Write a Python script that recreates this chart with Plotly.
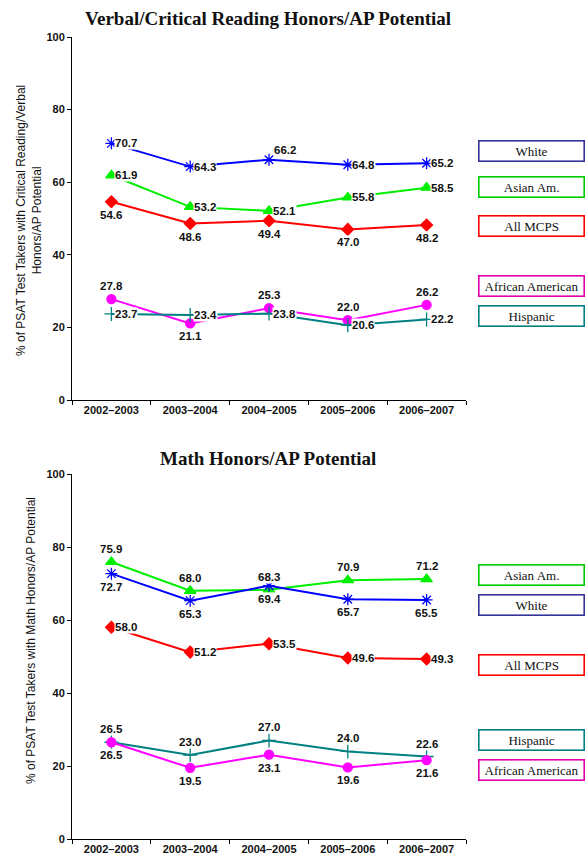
import plotly.graph_objects as go

years = ["2002–2003", "2003–2004", "2004–2005", "2005–2006", "2006–2007"]
y_ticks = [0, 20, 40, 60, 80, 100]

# Verbal / Critical Reading
v_white = [70.7, 64.3, 66.2, 64.8, 65.2]
v_asian = [61.9, 53.2, 52.1, 55.8, 58.5]
v_all = [54.6, 48.6, 49.4, 47.0, 48.2]
v_afam = [27.8, 21.1, 25.3, 22.0, 26.2]
v_hisp = [23.7, 23.4, 23.8, 20.6, 22.2]

# Math
m_asian = [75.9, 68.0, 68.3, 70.9, 71.2]
m_white = [72.7, 65.3, 69.4, 65.7, 65.5]
m_all = [58.0, 51.2, 53.5, 49.6, 49.3]
m_hisp = [26.5, 23.0, 27.0, 24.0, 22.6]
m_afam = [26.5, 19.5, 23.1, 19.6, 21.6]

series_names = ["White", "Asian Am.", "All MCPS", "African American", "Hispanic"]

line_col = {"White": "#0000ff", "Asian Am.": "#00ee00", "All MCPS": "#ff0000",
            "African American": "#ff00ff", "Hispanic": "#008080"}
box_col = {"White": "#333399", "Asian Am.": "#00cc00", "All MCPS": "#ff0000",
           "African American": "#dd00aa", "Hispanic": "#008080"}
sym = {"White": "asterisk-open", "Asian Am.": "triangle-up", "All MCPS": "diamond",
       "African American": "circle", "Hispanic": "cross-thin-open"}
msz = {"White": 10, "Asian Am.": 10, "All MCPS": 9, "African American": 9, "Hispanic": 10}

verbal = {"White": v_white, "Asian Am.": v_asian, "All MCPS": v_all,
          "African American": v_afam, "Hispanic": v_hisp}
math = {"Asian Am.": m_asian, "White": m_white, "All MCPS": m_all,
        "Hispanic": m_hisp, "African American": m_afam}

verbal_pos = {"White": ["r", "r", "tr", "r", "r"], "Asian Am.": ["r"] * 5,
              "All MCPS": ["b"] * 5, "African American": ["t", "b", "t", "t", "t"],
              "Hispanic": ["r"] * 5}
math_pos = {"Asian Am.": ["t", "t", "t", "t", "t"], "White": ["b"] * 5,
            "All MCPS": ["r"] * 5, "Hispanic": ["t"] * 5, "African American": ["b"] * 5}

verbal_legend_y = {"White": 151, "Asian Am.": 187.5, "All MCPS": 226,
                   "African American": 286, "Hispanic": 316}
math_legend_y = {"Asian Am.": 574.5, "White": 604.5, "All MCPS": 665,
                 "Hispanic": 740, "African American": 770}

W, H = 586, 864
SANS = "Liberation Sans"
fig = go.Figure()
annots = []

offsets = {"r": dict(xanchor="left", yanchor="middle", xshift=3, yshift=0),
           "tr": dict(xanchor="left", yanchor="bottom", xshift=4, yshift=3),
           "t": dict(xanchor="center", yanchor="bottom", xshift=0, yshift=6),
           "b": dict(xanchor="center", yanchor="top", xshift=0, yshift=-6)}

def add_panel(data, pos, xa, ya):
    for name, vals in data.items():
        fig.add_trace(go.Scatter(
            x=years, y=vals, mode="lines+markers", name=name, showlegend=False,
            xaxis=xa, yaxis=ya, hoverinfo="skip",
            line=dict(color=line_col[name], width=2),
            marker=dict(symbol=sym[name], size=msz[name], color=line_col[name],
                        line=dict(color=line_col[name], width=1.3)),
        ))
        for i, v in enumerate(vals):
            o = offsets[pos[name][i]]
            annots.append(dict(
                x=years[i], y=v, xref=xa, yref=ya, text=f"{v:.1f}", showarrow=False,
                font=dict(family=SANS, size=11.5, color="#111111", weight="bold"),
                bgcolor="white", borderpad=0, **o))

add_panel(verbal, verbal_pos, "x", "y")
add_panel(math, math_pos, "x2", "y2")

def legend_boxes(ypos):
    for name, yc in ypos.items():
        annots.append(dict(
            x=531.5 / W, y=1 - yc / H, xref="paper", yref="paper", text=name,
            showarrow=False, xanchor="center", yanchor="middle",
            width=102, height=17, borderpad=1, borderwidth=1.6,
            bordercolor=box_col[name], bgcolor="white",
            font=dict(family="Liberation Serif", size=13, color="#111111")))

legend_boxes(verbal_legend_y)
legend_boxes(math_legend_y)

annots.append(dict(x=268 / W, y=1 - 18 / H, xref="paper", yref="paper",
                   text="<b>Verbal/Critical Reading Honors/AP Potential</b>", showarrow=False,
                   xanchor="center", yanchor="middle",
                   font=dict(family="Liberation Serif", size=19, color="#111111")))
annots.append(dict(x=268 / W, y=1 - 458 / H, xref="paper", yref="paper",
                   text="<b>Math Honors/AP Potential</b>", showarrow=False,
                   xanchor="center", yanchor="middle",
                   font=dict(family="Liberation Serif", size=19, color="#111111")))

# y-axis titles
annots.append(dict(x=29 / W, y=1 - 221 / H, xref="paper", yref="paper", textangle=-90,
                   text="% of PSAT Test Takers with Critical Reading/Verbal<br>Honors/AP Potential",
                   showarrow=False, xanchor="center", yanchor="middle",
                   font=dict(family=SANS, size=12, color="#111111")))
annots.append(dict(x=31 / W, y=1 - 641 / H, xref="paper", yref="paper", textangle=-90,
                   text="% of PSAT Test Takers with Math Honors/AP Potential",
                   showarrow=False, xanchor="center", yanchor="middle",
                   font=dict(family=SANS, size=12, color="#111111")))

xdom = [72 / W, 466 / W]
axis_common = dict(showline=True, linecolor="black", linewidth=1, ticks="outside",
                   ticklen=4, tickcolor="black", showgrid=False, zeroline=False,
                   automargin=False, fixedrange=True,
                   tickfont=dict(family=SANS, size=11, color="#111111", weight="bold"))

xa = dict(axis_common, type="category", tickson="boundaries", range=[-0.5, 4.5],
          domain=xdom, categoryorder="array", categoryarray=years)
ya = dict(axis_common, range=[0, 100], tickvals=y_ticks, ticklen=4)

fig.update_layout(
    width=W, height=H, margin=dict(l=0, r=0, t=0, b=0, autoexpand=False),
    plot_bgcolor="white", paper_bgcolor="white", showlegend=False,
    xaxis=dict(xa, anchor="y"),
    yaxis=dict(ya, domain=[1 - 400 / H, 1 - 37 / H], anchor="x"),
    xaxis2=dict(xa, anchor="y2"),
    yaxis2=dict(ya, domain=[1 - 839 / H, 1 - 474 / H], anchor="x2"),
    annotations=annots,
)

fig.write_html("out.html", config={"displayModeBar": False},
               post_script="document.body.style.margin='0';document.body.style.overflow='hidden';")
